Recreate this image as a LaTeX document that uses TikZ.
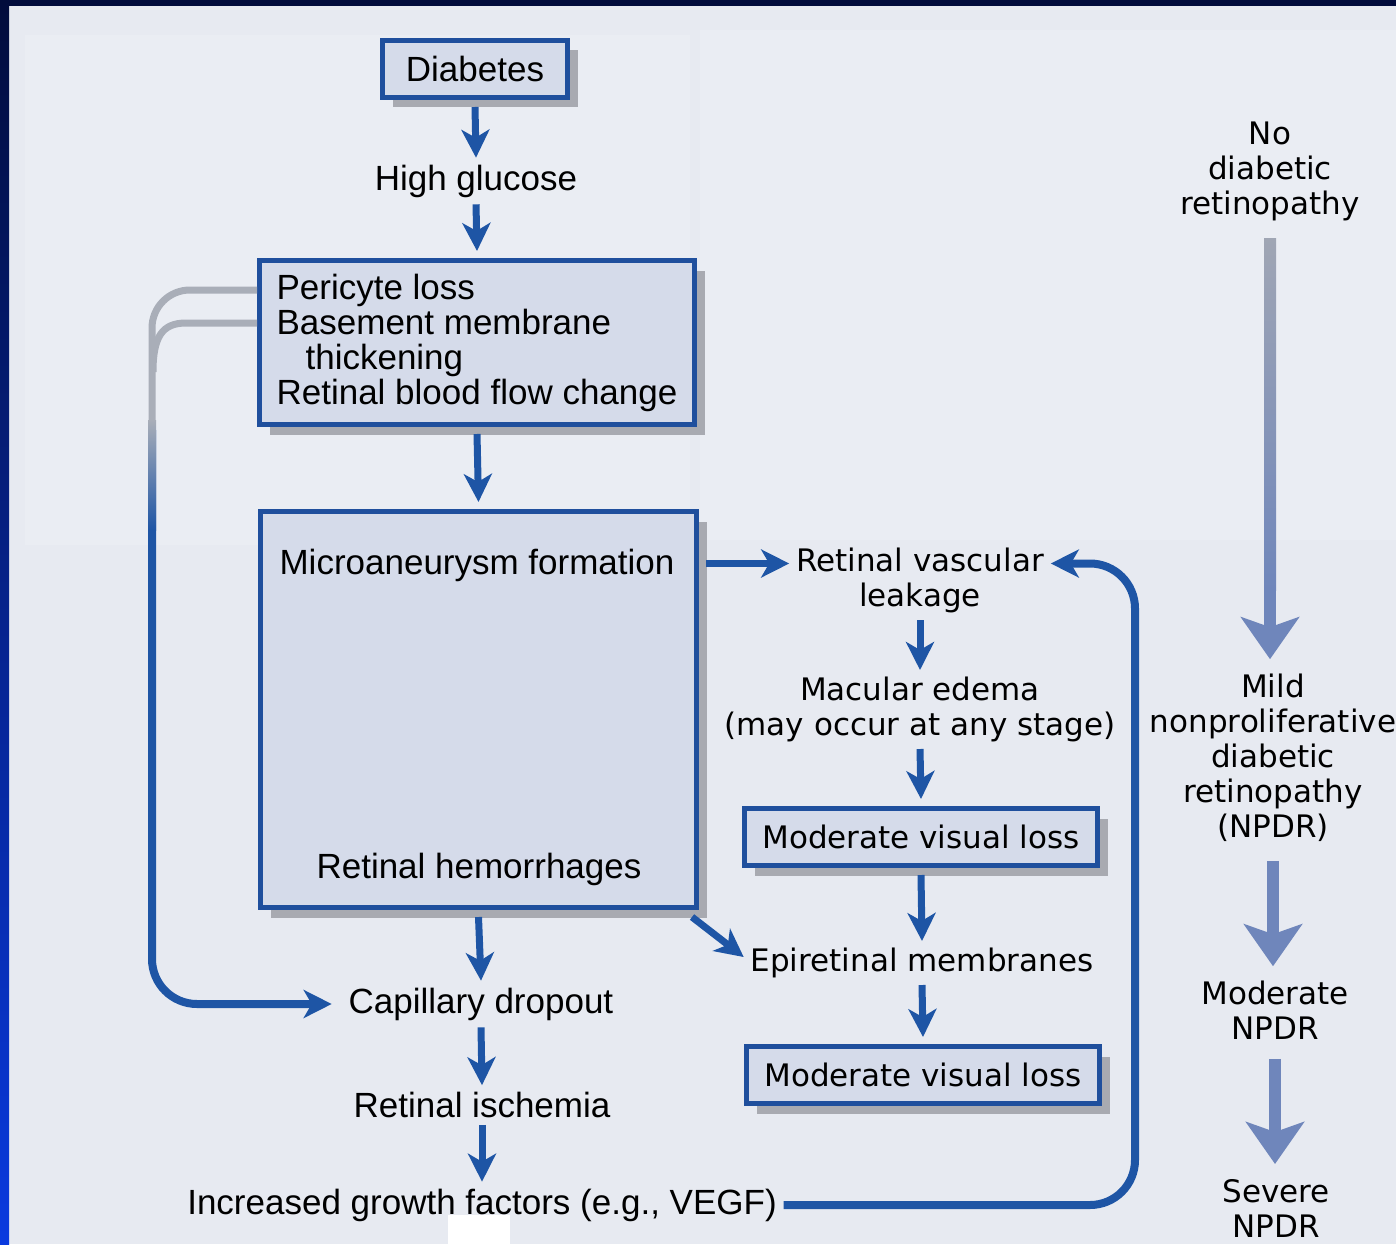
\documentclass[tikz,border=0pt]{standalone}
\usepackage{fontspec}
\usepackage{xcolor}
\usepackage{tikz}
\usetikzlibrary{arrows.meta,positioning,shadows}
\newfontfamily\helvfamily{Liberation Sans}
\newfontfamily\widefamily{DejaVu Sans}
\newcommand{\panelfont}{\helvfamily\fontsize{35}{35}\selectfont}
\newcommand{\stagefont}{\widefamily\fontsize{31}{35}\selectfont}
\definecolor{pagebg}{HTML}{E7EAF1}
\definecolor{panellight}{HTML}{EAEDF3}
\definecolor{boxfill}{HTML}{D5DBEA}
\definecolor{boxblue}{HTML}{1F4F9D}
\definecolor{flowblue}{HTML}{1E55A5}
\definecolor{shadowgrey}{HTML}{A8AAB1}
\definecolor{loopgrey}{HTML}{A9AEB8}
\definecolor{npdrblue}{HTML}{6F86BB}
\definecolor{stagegrey}{HTML}{A0A6B4}
\definecolor{framenavy}{HTML}{020C3C}
\definecolor{frameblue}{HTML}{0A3ADF}
\tikzset{
  flowbox/.style={
    draw=boxblue,
    line width=5pt,
    fill=boxfill,
    drop shadow={shadow xshift=10pt,shadow yshift=-10pt,fill=shadowgrey,opacity=1},
    inner sep=0pt,
    outer sep=9.5pt,
    font=\panelfont
  },
  stagebox/.style={flowbox,font=\stagefont},
  plaintext/.style={inner sep=0pt,outer sep=7pt,align=center,yshift=-3pt,font=\panelfont},
  stagetext/.style={inner sep=0pt,outer sep=7pt,align=center,yshift=-3pt,font=\stagefont},
  dataflow/.style={-{Stealth[length=28pt,width=28pt,inset=8pt]},line width=7pt,draw=flowblue},
  loopflow/.style={line width=8pt,draw=flowblue,rounded corners=45pt},
  greyloop/.style={line width=7pt,draw=loopgrey},
  stageflow/.style={
    -{Stealth[length=42pt,width=58pt,inset=10pt]},
    line width=12pt,
    draw=npdrblue,
    shorten <=12pt,
    shorten >=8pt
  }
}
\begin{document}
\begin{tikzpicture}[x=1pt,y=-1pt]
  \useasboundingbox (0,0) rectangle (1396,1244);
  % page and frame
  \fill[pagebg] (0,0) rectangle (1396,1244);
  \fill[panellight] (25,35) rectangle (690,545);
  \fill[panellight] (700,30) rectangle (1396,540);
  \fill[white] (448,1215) rectangle (510,1244);
  \fill[framenavy] (0,0) rectangle (1396,6);
  \shade[top color=framenavy,bottom color=frameblue] (0,0) rectangle (9,1244);

  % main pathway
  \node[flowbox,minimum width=185pt,minimum height=57pt] (diabetes) at (475,69) {Diabetes};
  \node[plaintext] (glucose) at (476,178) {High glucose};
  \node[flowbox,minimum width=435pt,minimum height=164pt,align=left] (pericyte) at (477,342.5)
    {Pericyte loss\\Basement membrane\\\hspace*{29pt}thickening\\Retinal blood flow change};
  \node[flowbox,minimum width=436pt,minimum height=396pt] (micro) at (478.5,709.5) {};
  \node[plaintext] (microtop) at (477,562) {Microaneurysm formation};
  \node[plaintext] (microbot) at (479,866) {Retinal hemorrhages};
  \node[plaintext] (capillary) at (481,1001) {Capillary dropout};
  \node[plaintext] (ischemia) at (482,1102) {Retinal ischemia};
  \node[plaintext] (vegf) at (482,1202) {Increased growth factors (e.g., VEGF)};

  % leakage branch
  \node[stagetext] (leakage) at (920,577.5) {Retinal vascular\\leakage};
  \node[stagetext] (edema) at (920,706.5) {Macular edema\\(may occur at any stage)};
  \node[stagebox,minimum width=353pt,minimum height=57pt] (lossa) at (921,837) {Moderate visual loss};
  \node[stagetext] (epiret) at (922,960) {Epiretinal membranes};
  \node[stagebox,minimum width=353pt,minimum height=57pt] (lossb) at (923,1075) {Moderate visual loss};

  % stages
  \node[stagetext] (nodr) at (1270,168) {No\\diabetic\\retinopathy};
  \node[stagetext] (mild) at (1273,755) {Mild\\nonproliferative\\diabetic\\retinopathy\\(NPDR)};
  \node[stagetext] (modnpdr) at (1275,1007.5) {Moderate\\NPDR};
  \node[stagetext] (severe) at (1276,1205) {Severe\\NPDR};

  \draw[dataflow] (diabetes.south) -- (glucose.north);
  \draw[dataflow] (glucose.south) -- (pericyte.north);
  \draw[dataflow] (pericyte.south) -- (micro.north);
  \draw[dataflow] (micro.south) -- (capillary.north);
  \draw[dataflow] (capillary.south) -- (ischemia.north);
  \draw[dataflow] (ischemia.south) -- (vegf.north);

  \coordinate (leakin) at ([yshift=17pt]leakage.west);
  \coordinate (leakback) at ([yshift=17pt]leakage.east);
  \draw[dataflow] (micro.east |- leakin) -- (leakin);
  \draw[dataflow] ([xshift=-14pt]micro.south east) -- ([yshift=6pt]epiret.west);
  \draw[dataflow] (leakage.south) -- (edema.north);
  \draw[dataflow] (edema.south) -- (lossa.north);
  \draw[dataflow] (lossa.south) -- (epiret.north);
  \draw[dataflow] (epiret.south) -- (lossb.north);

  % feedback from growth factors
  \coordinate (backup) at (1135,0);
  \draw[loopflow,-{Stealth[length=28pt,width=28pt,inset=8pt]}]
    (vegf.east) -- (vegf.east -| backup) -- (backup |- leakback) -- (leakback);

  % loop to capillary dropout
  \coordinate (loopa) at ([xshift=7pt,yshift=52.5pt]pericyte.west);
  \coordinate (loopb) at ([xshift=7pt,yshift=19.5pt]pericyte.west);
  \coordinate (loopx) at (152,470);
  \draw[greyloop,rounded corners=38pt] (loopa) -- (loopa -| loopx) -- ([yshift=-60pt]loopx);
  \draw[greyloop] (loopb) -- (186,323) .. controls (162,323) and (153,337) .. (153,372);
  \draw[loopflow,-{Stealth[length=28pt,width=28pt,inset=8pt]},shorten >=10pt]
    ([yshift=40pt]loopx) -- (loopx |- capillary.west) -- (capillary.west);
  \shade[top color=loopgrey,bottom color=flowblue] (148,420) rectangle (156,530);

  \draw[stageflow] (nodr.south) -- (nodr.south |- mild.north);
  \draw[stageflow] (mild.south) -- (mild.south |- modnpdr.north);
  \draw[stageflow] (modnpdr.south) -- (modnpdr.south |- severe.north);
  \shade[top color=stagegrey,bottom color=npdrblue] (1264,238) rectangle (1276,590);
\end{tikzpicture}
\end{document}
